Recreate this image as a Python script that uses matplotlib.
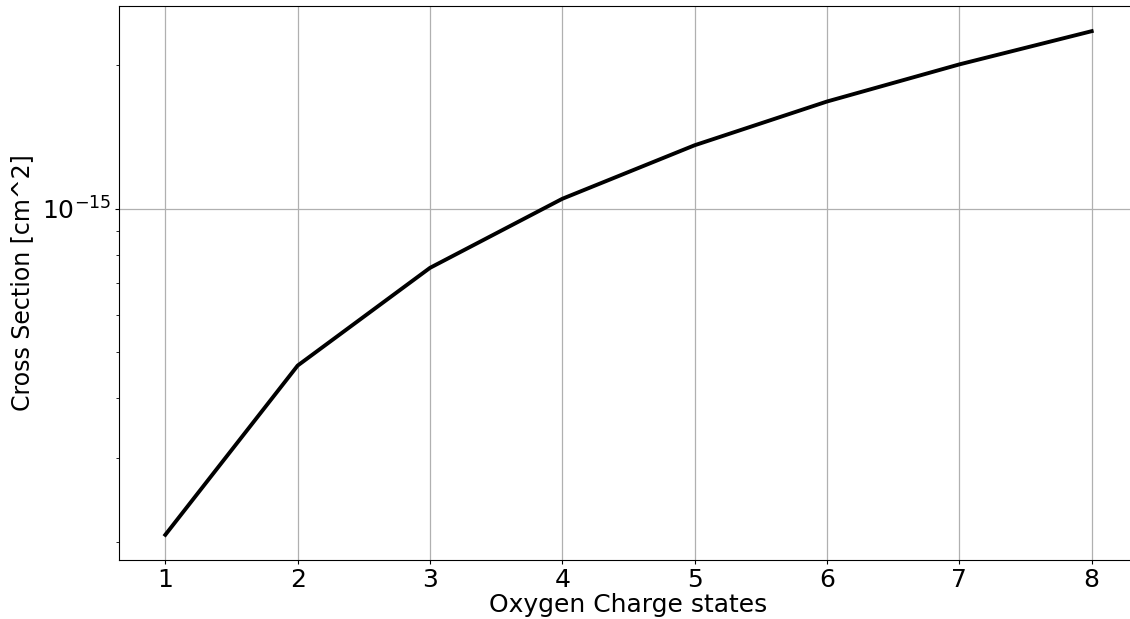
import matplotlib
matplotlib.use("Agg")
import matplotlib.pyplot as plt
from matplotlib.ticker import NullFormatter
import numpy as np

charge_states = [1, 2, 3, 4, 5, 6, 7, 8]
cross_section = [2.07e-16, 4.69e-16, 7.52e-16, 1.05e-15, 1.36e-15, 1.68e-15, 2.01e-15, 2.36e-15]

fig = plt.figure(figsize=(11.3, 6.19), dpi=100)
ax = fig.add_axes([119 / 1130, 59 / 619, 1019 / 1130, 554 / 619])

ax.plot(charge_states, cross_section, color='black', linewidth=2.8)
ax.set_yscale('log')
ax.yaxis.set_minor_formatter(NullFormatter())
ax.grid(True, which='major', color='#b0b0b0', linewidth=0.9)
ax.set_xlabel('Oxygen Charge states', fontsize=18, labelpad=1)
ax.set_ylabel('Cross Section [cm^2]', fontsize=17, labelpad=6)
ax.tick_params(axis='both', which='major', labelsize=18, length=3, pad=2.5)
ax.tick_params(axis='y', which='minor', length=2.5)

fig.savefig('out.png', dpi=100)
